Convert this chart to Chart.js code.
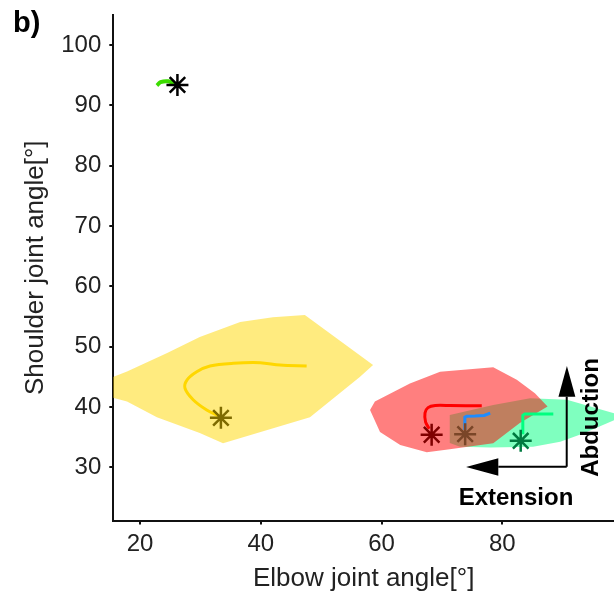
<!DOCTYPE html>
<html>
<head>
<meta charset="utf-8">
<script src="https://cdn.jsdelivr.net/npm/chart.js@4/dist/chart.umd.min.js"></script>
<style>
  html, body { margin: 0; padding: 0; background: #fff; }
  #wrap { width: 614px; height: 600px; position: relative; }
</style>
</head>
<body>
<div id="wrap"><canvas id="c" width="614" height="600"></canvas></div>
<script>
// Axis ranges and ticks (degrees)
const xRange = [15.58, 98.5];
const yRange = [21.18, 105];
const xTicks = [20, 40, 60, 80];
const yTicks = [30, 40, 50, 60, 70, 80, 90, 100];

// Workspace regions: [elbow, shoulder]
const yellowRegion = [[15.3,44.9],[17.85,45.9],[24.5,48.95],[29.9,51.6],[36.6,54.1],[42.0,54.9],[47.3,55.25],[58.6,46.95],[56.4,44.97],[48.15,38.3],[33.75,34.0],[29.9,35.7],[22.8,38.3],[17.85,40.9],[15.3,41.6]];
const redRegion = [[58.1,39.5],[58.9,40.9],[64.7,43.9],[69.7,45.85],[78.5,46.6],[82.4,44.5],[85.4,42.3],[87.5,40.1],[82.9,37.35],[78.5,34.0],[71.3,33.0],[67.5,32.5],[63.1,33.7],[59.75,35.85]];
const greenRegion = [[71.3,38.67],[78.5,40.33],[84.6,41.45],[90.7,41.2],[98.5,38.95],[99.0,38.2],[98.5,37.8],[93.4,35.6],[89.6,34.25],[85.1,33.4],[78.0,33.3],[73.0,33.4],[71.3,34.03]];

// Joint-angle trajectories
const limeTrace = [[22.8,93.3],[23.4,93.85],[24.7,94.0],[26.1,93.4]];
const goldTrace = [[33.25,38.4],[31.05,39.5],[28.8,41.2],[27.45,43.1],[27.8,44.5],[29.4,45.85],[31.6,46.8],[35.45,47.25],[39.9,47.35],[43.2,46.95],[47.6,46.8]];
const redTrace = [[67.9,36.4],[67.3,37.5],[67.2,39.0],[67.7,39.9],[68.9,40.25],[71.3,40.25],[76.6,40.2]];
const blueTrace = [[73.8,36.2],[73.8,37.5],[73.8,38.3],[74.1,38.45],[75.5,38.5],[77.0,38.6],[78.0,39.0]];
const springTrace = [[83.4,35.5],[83.4,37.0],[83.4,38.6],[83.7,38.85],[86.0,38.85],[88.45,38.85]];

// Start postures
const blackStart = [[26.2,93.4]];
const oliveStart = [[33.4,38.2]];
const maroonStart = [[68.3,35.4]];
const brownStart = [[73.85,35.5]];
const greenStart = [[83.05,34.4]];

// Direction arrows (Abduction up, Extension left)
const abductionShaft = [[90.67,30.1],[90.67,41.7]];
const abductionHead = [[89.3,41.7],[92.1,41.7],[90.7,46.8]];
const extensionShaft = [[90.67,30.1],[79.34,30.1]];
const extensionHead = [[79.34,31.5],[79.34,28.6],[74.0,30.05]];

const pts = a => a.map(([x, y]) => ({x, y}));

function region(data, color) {
  return { type: 'line', data: pts(data), showLine: true, borderWidth: 0, pointRadius: 0,
           backgroundColor: color, borderColor: 'transparent', fill: 'shape' };
}
function trace(data, color, width) {
  return { type: 'line', data: pts(data), showLine: true, borderWidth: width || 3, pointRadius: 0,
           borderColor: color, fill: false, tension: 0.35, order: 1 };
}
function start(data, color) {
  return { type: 'scatter', data: pts(data), showLine: false, pointStyle: 'star', pointRadius: 11,
           pointBorderColor: color, pointBackgroundColor: color, pointBorderWidth: 2.5, order: 0 };
}

const datasets = [
  Object.assign(region(yellowRegion, 'rgba(255,215,0,0.5)'), { order: 5 }),
  Object.assign(region(greenRegion, 'rgba(0,255,128,0.5)'), { order: 4 }),
  Object.assign(region(redRegion, 'rgba(255,0,0,0.5)'), { order: 3 }),
  trace(limeTrace, '#3cdc00', 4),
  trace(goldTrace, '#ffd700', 3),
  Object.assign(trace(redTrace, '#ff0000', 3), { tension: 0.25 }),
  Object.assign(trace(blueTrace, '#1e8cff', 3), { tension: 0 }),
  Object.assign(trace(springTrace, '#00ff80', 3), { tension: 0 }),
  start(blackStart, '#000000'),
  start(oliveStart, '#7f6b00'),
  start(maroonStart, '#7f0000'),
  start(brownStart, '#7a4628'),
  start(greenStart, '#007a40'),
  { type: 'line', data: pts(abductionShaft), showLine: true, borderWidth: 2, pointRadius: 0, borderColor: '#000', fill: false, order: 1 },
  { type: 'line', data: pts(extensionShaft), showLine: true, borderWidth: 2, pointRadius: 0, borderColor: '#000', fill: false, order: 1 },
  Object.assign(region(abductionHead, '#000'), { order: 1 }),
  Object.assign(region(extensionHead, '#000'), { order: 1 })
];

// Panel letter and arrow captions
const captions = {
  panel: { text: 'b)', px: 13, py: 32 },
  extension: { text: 'Extension', x: 82.27, y: 23.75 },
  abduction: { text: 'Abduction', x: 95.85, y: 38.26 }
};

const captionPlugin = {
  id: 'captions',
  afterDraw(chart) {
    const ctx = chart.ctx, xs = chart.scales.x, ys = chart.scales.y;
    ctx.save();
    ctx.fillStyle = '#000';
    ctx.font = 'bold 29px "Liberation Sans", Arial, sans-serif';
    ctx.textAlign = 'left';
    ctx.textBaseline = 'alphabetic';
    ctx.fillText(captions.panel.text, captions.panel.px, captions.panel.py);

    ctx.font = 'bold 24px "Liberation Sans", Arial, sans-serif';
    ctx.textAlign = 'center';
    ctx.fillText(captions.extension.text, xs.getPixelForValue(captions.extension.x), ys.getPixelForValue(captions.extension.y));

    ctx.translate(xs.getPixelForValue(captions.abduction.x), ys.getPixelForValue(captions.abduction.y));
    ctx.rotate(-Math.PI / 2);
    ctx.fillText(captions.abduction.text, 0, 0);
    ctx.restore();
  }
};

const tickFont = { family: '"Liberation Sans", Arial, sans-serif', size: 24 };
const titleFont = { family: '"Liberation Sans", Arial, sans-serif', size: 26 };

new Chart(document.getElementById('c'), {
  type: 'scatter',
  data: { datasets },
  options: {
    responsive: false,
    animation: false,
    devicePixelRatio: 1,
    layout: { autoPadding: false, padding: { top: 15, right: 0, left: 0, bottom: 0 } },
    plugins: { legend: { display: false }, tooltip: { enabled: false } },
    scales: {
      x: {
        type: 'linear', min: xRange[0], max: xRange[1],
        afterFit: s => { s.height = 79.5; s.paddingLeft = 0; s.paddingRight = 0; },
        afterBuildTicks: s => { s.ticks = xTicks.map(v => ({ value: v })); },
        grid: { display: true, drawOnChartArea: false, drawTicks: true, tickLength: 4, color: '#111', lineWidth: 2 },
        border: { display: true, color: '#111', width: 2 },
        ticks: { font: tickFont, color: '#222', padding: 5, maxRotation: 0 },
        title: { display: true, text: 'Elbow joint angle[°]', font: titleFont, color: '#222', padding: { top: 0, bottom: 6 } }
      },
      y: {
        type: 'linear', min: yRange[0], max: yRange[1],
        afterFit: s => { s.width = 113.3; s.paddingTop = 0; s.paddingBottom = 0; },
        afterBuildTicks: s => { s.ticks = yTicks.map(v => ({ value: v })); },
        grid: { display: true, drawOnChartArea: false, drawTicks: true, tickLength: 4, color: '#111', lineWidth: 2 },
        border: { display: true, color: '#111', width: 2 },
        ticks: { font: tickFont, color: '#222', padding: 8 },
        title: { display: true, text: 'Shoulder joint angle[°]', font: titleFont, color: '#222', padding: { top: 20, bottom: 0 } }
      }
    }
  },
  plugins: [captionPlugin]
});
</script>
</body>
</html>
